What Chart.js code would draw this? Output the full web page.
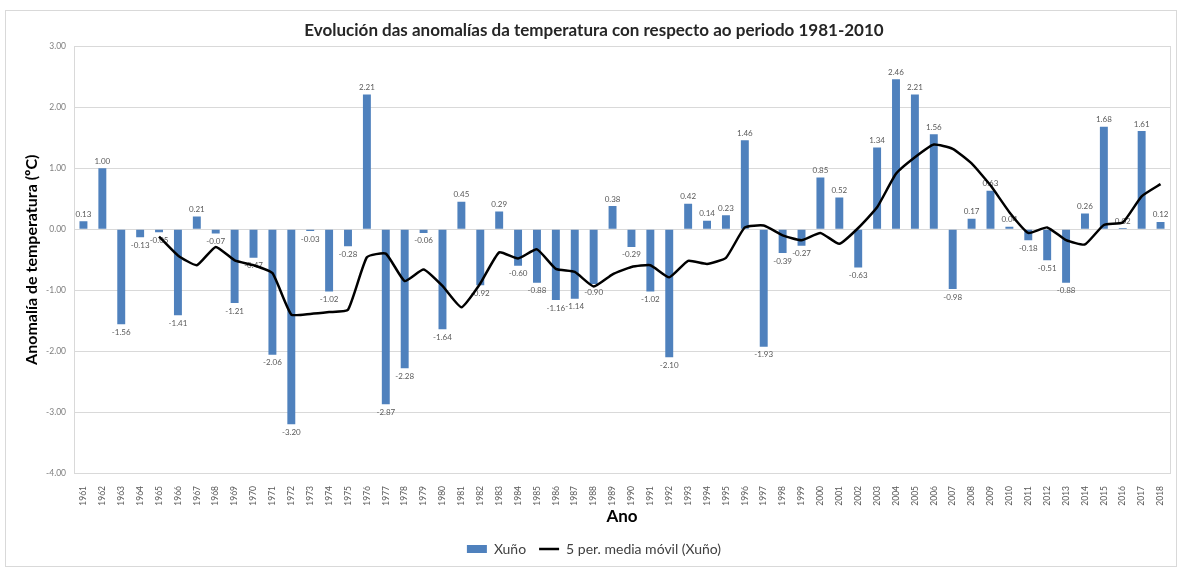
<!DOCTYPE html>
<html>
<head>
<meta charset="utf-8">
<script src="https://cdn.jsdelivr.net/npm/chart.js@4.4.1/dist/chart.umd.min.js"></script>
<style>
  html, body { margin: 0; padding: 0; background: #fff; }
  #frame { position: absolute; left: 5px; top: 10px; width: 1170px; height: 555px; border: 1px solid #d9d9d9; }
  canvas { display: block; }
</style>
</head>
<body>
<div id="frame"><canvas id="chart1"></canvas></div>
<script>
const years = ['1961','1962','1963','1964','1965','1966','1967','1968','1969','1970',
  '1971','1972','1973','1974','1975','1976','1977','1978','1979','1980',
  '1981','1982','1983','1984','1985','1986','1987','1988','1989','1990',
  '1991','1992','1993','1994','1995','1996','1997','1998','1999','2000',
  '2001','2002','2003','2004','2005','2006','2007','2008','2009','2010',
  '2011','2012','2013','2014','2015','2016','2017','2018'];

// anomalía de xuño (ºC)
const june = [0.13, 1.00, -1.56, -0.13, -0.05, -1.41, 0.21, -0.07, -1.21, -0.47,
  -2.06, -3.20, -0.03, -1.02, -0.28, 2.21, -2.87, -2.28, -0.06, -1.64,
  0.45, -0.92, 0.29, -0.60, -0.88, -1.16, -1.14, -0.90, 0.38, -0.29,
  -1.02, -2.10, 0.42, 0.14, 0.23, 1.46, -1.93, -0.39, -0.27, 0.85,
  0.52, -0.63, 1.34, 2.46, 2.21, 1.56, -0.98, 0.17, 0.63, 0.04,
  -0.18, -0.51, -0.88, 0.26, 1.68, 0.02, 1.61, 0.12];

const movingAvg = [null, null, null, null, -0.12, -0.43, -0.59, -0.29, -0.51, -0.59,
  -0.72, -1.40, -1.39, -1.36, -1.32, -0.46, -0.40, -0.85, -0.66, -0.93,
  -1.28, -0.89, -0.38, -0.48, -0.33, -0.65, -0.70, -0.94, -0.74, -0.62,
  -0.59, -0.79, -0.52, -0.57, -0.47, 0.03, 0.06, -0.10, -0.18, -0.06,
  -0.24, 0.02, 0.36, 0.91, 1.18, 1.39, 1.32, 1.08, 0.72, 0.28,
  -0.06, 0.03, -0.18, -0.25, 0.07, 0.11, 0.54, 0.74];

const yMin = -4;
const yMax = 3;

const barLabels = {
  id: 'barLabels',
  afterDatasetDraw(chart, args) {
    if (args.index !== 0) return;
    const ctx = chart.ctx;
    ctx.save();
    ctx.font = '8px Lato';
    ctx.fillStyle = '#595959';
    ctx.textAlign = 'center';
    args.meta.data.forEach((bar, i) => {
      const v = june[i];
      if (v >= 0) {
        ctx.textBaseline = 'bottom';
        ctx.fillText(v.toFixed(2), bar.x, bar.y - 3);
      } else {
        ctx.textBaseline = 'top';
        ctx.fillText(v.toFixed(2), bar.x, bar.y + 4);
      }
    });
    ctx.restore();
  }
};

const plotBorder = {
  id: 'plotBorder',
  beforeDatasetsDraw(chart) {
    const a = chart.chartArea;
    const ctx = chart.ctx;
    ctx.save();
    ctx.strokeStyle = '#d9d9d9';
    ctx.lineWidth = 1;
    ctx.strokeRect(Math.round(a.left) + 0.5, Math.round(a.top) + 0.5, Math.round(a.right - a.left), Math.round(a.bottom - a.top));
    ctx.restore();
  }
};

const ctx = document.getElementById('chart1');

new Chart(ctx, {
  type: 'bar',
  data: {
    labels: years,
    datasets: [{
      label: 'Xuño',
      data: june,
      backgroundColor: '#4f81bd',
      borderWidth: 0,
      categoryPercentage: 1,
      barPercentage: 0.42,
      pointStyle: 'rect',
      order: 1
    }, {
      type: 'line',
      label: '5 per. media móvil (Xuño)',
      data: movingAvg,
      borderColor: '#000',
      backgroundColor: '#000',
      borderWidth: 2.5,
      pointRadius: 0,
      pointStyle: 'line',
      fill: false,
      tension: 0.15,
      spanGaps: false,
      order: 0
    }]
  },
  plugins: [barLabels, plotBorder],
  options: {
    responsive: true,
    maintainAspectRatio: false,
    animation: false,
    layout: { padding: { left: 12, right: 6, top: 0, bottom: 0 } },
    scales: {
      x: {
        grid: { display: false },
        border: { display: false },
        ticks: {
          font: { family: 'Lato', size: 8.5 },
          color: '#595959',
          maxRotation: 90,
          minRotation: 90,
          autoSkip: false,
          padding: 5
        },
        title: {
          display: true,
          text: 'Ano',
          font: { family: 'Lato', size: 17, weight: 'bold' },
          color: '#000',
          padding: { top: 2, bottom: 2 }
        },
        afterFit(scale) { scale.height = 56; }
      },
      y: {
        min: yMin,
        max: yMax,
        ticks: {
          stepSize: 1,
          font: { family: 'Lato', size: 8.5 },
          color: '#7f7f7f',
          padding: 8,
          callback: v => v.toFixed(2)
        },
        grid: { color: '#d9d9d9', drawTicks: false },
        border: { display: false },
        title: {
          display: true,
          text: 'Anomalía de temperatura (ºC)',
          font: { family: 'Lato', size: 16, weight: 'bold' },
          color: '#000',
          padding: { top: 4, bottom: 4 }
        },
        afterFit(scale) { scale.width = 56; }
      }
    },
    plugins: {
      title: {
        display: true,
        text: 'Evolución das anomalías da temperatura con respecto ao periodo 1981-2010',
        font: { family: 'Lato', size: 17, weight: 'bold' },
        color: '#262626',
        padding: { top: 9, bottom: 6 }
      },
      legend: {
        position: 'bottom',
        labels: {
          usePointStyle: true,
          pointStyleWidth: 20,
          boxHeight: 8,
          font: { family: 'Lato', size: 14 },
          color: '#404040',
          padding: 13,
          sort: (a, b) => a.datasetIndex - b.datasetIndex
        }
      },
      tooltip: { enabled: false }
    }
  }
});
</script>
</body>
</html>
